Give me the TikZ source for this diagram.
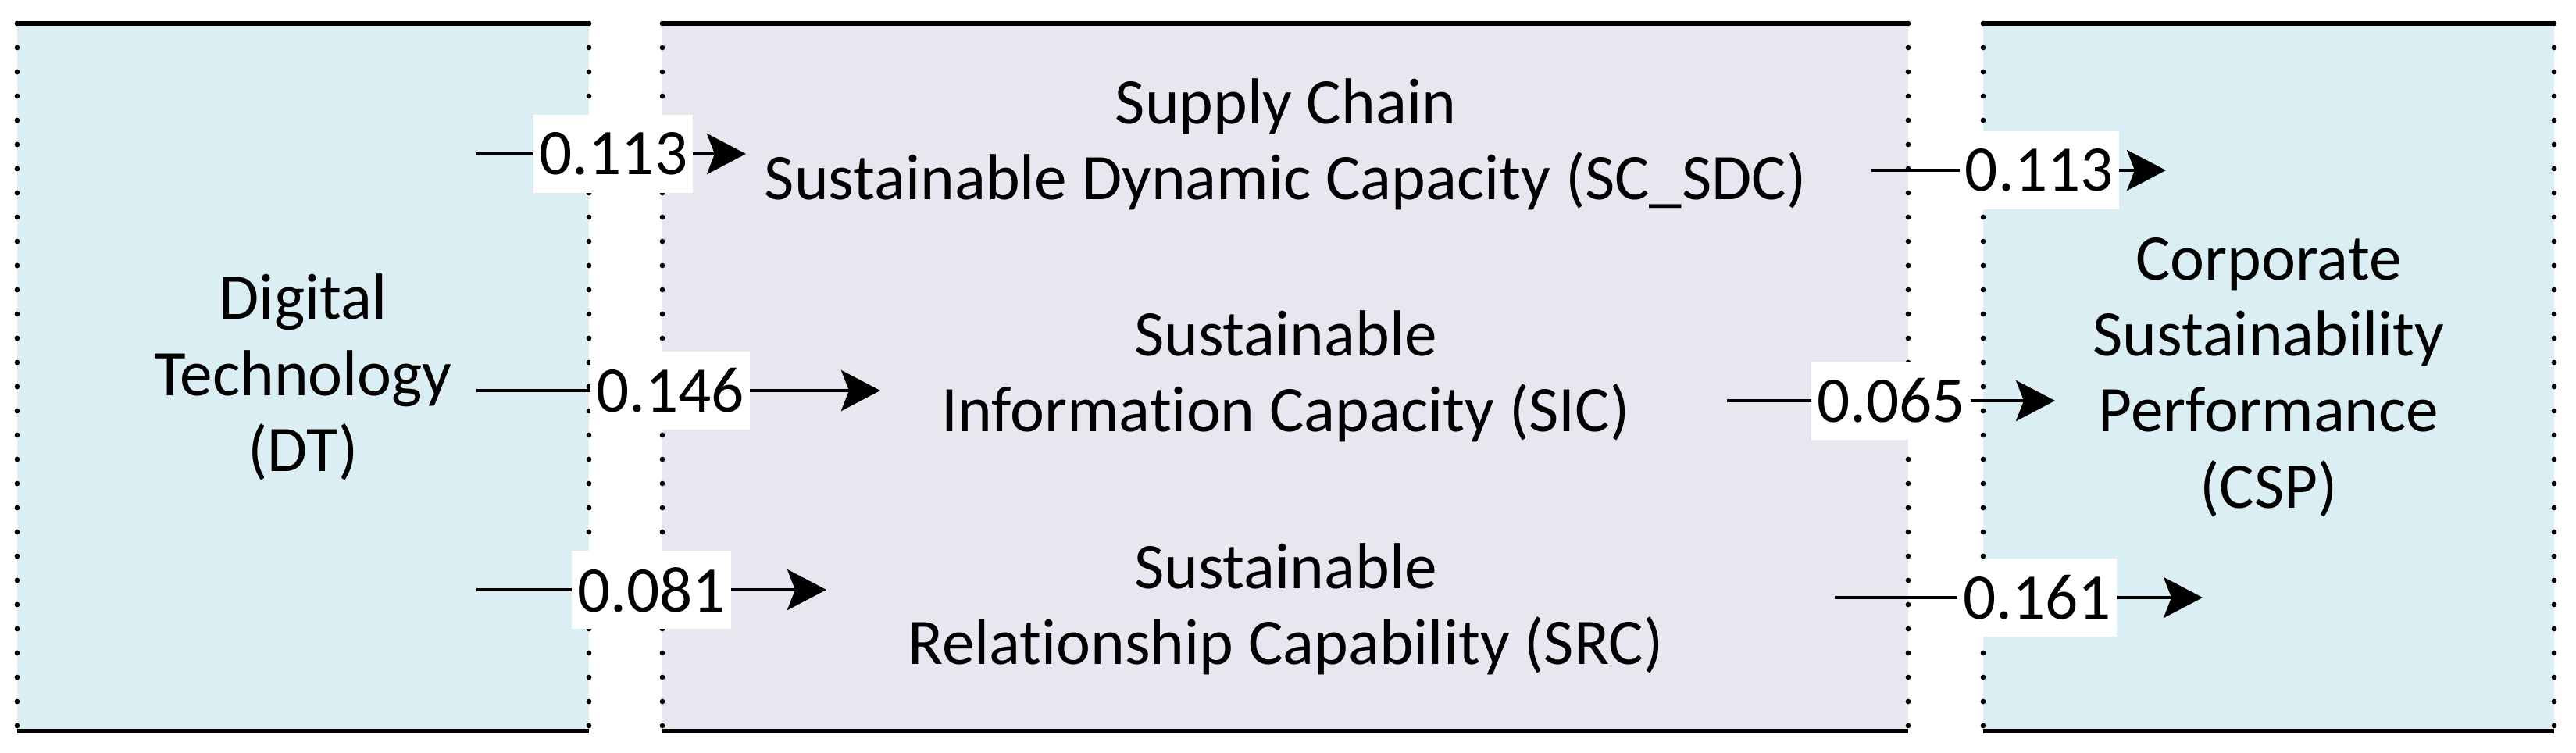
\documentclass[tikz,border=0pt]{standalone}
\usepackage{fontspec}
\setmainfont{Carlito}[Ligatures=NoCommon]
\usepackage{tikz}
\usetikzlibrary{arrows.meta}
\usetikzlibrary{calc}
\definecolor{dt-blue}{RGB}{218,238,243}
\definecolor{mid-lilac}{RGB}{233,230,239}
\tikzset{
every picture/.style={line width=1.1pt,
                       >={Stealth[length=5mm,width=5.2mm,inset=1mm]}},
%%%%%%%%%%  Panel styles
panel/.style={fill=#1, draw=none, inner sep=0pt, outer sep=0pt},
thick_rule/.style={line width=1.8pt, line cap=butt},
dot_rule/.style={line width=1.9pt, line cap=round,
                 dash pattern=on 0pt off 0.31cm},
%%%%%%%%%%  Text styles
caption/.style={align=center, inner sep=0pt,
                font=\fontsize{23.7}{27.7}\selectfont},
coef/.style={fill=white, inner xsep=2pt, inner ysep=0pt,
             minimum height=1cm, font=\fontsize{23.7}{27.7}\selectfont},
path_arrow/.style={->, line width=1.1pt}
}

\begin{document}
\begin{tikzpicture}
\useasboundingbox (0,0) rectangle (32.98,-9.63);
%% panels
\node[panel=dt-blue, minimum width=7.32cm, minimum height=9.06cm] (DT) at (3.88,-4.83) {};
\node[panel=mid-lilac, minimum width=15.95cm, minimum height=9.06cm] (MID) at (16.455,-4.83) {};
\node[panel=dt-blue, minimum width=7.31cm, minimum height=9.06cm] (CSP) at (29.045,-4.83) {};
\foreach \p in {DT,MID,CSP}{
  \draw[thick_rule] (\p.north west) -- (\p.north east);
  \draw[thick_rule] (\p.south west) -- (\p.south east);
  \draw[dot_rule] (\p.north west) -- (\p.south west);
  \draw[dot_rule] (\p.north east) -- (\p.south east);
}
%% captions
\node[caption] (dt_txt) at (DT) {Digital\\Technology\\(DT)};
\node[caption] (sdc_txt) at (16.46,-1.85) {Supply Chain\\Sustainable Dynamic Capacity (SC\_SDC)};
\node[caption] (sic_txt) at (16.46,-4.82) {Sustainable\\Information Capacity (SIC)};
\node[caption] (src_txt) at (16.46,-7.80) {Sustainable\\Relationship Capability (SRC)};
\node[caption] (csp_txt) at (CSP) {Corporate\\Sustainability\\Performance\\(CSP)};
%% arrow ends
\coordinate (dt1) at (6.09,-1.97);
\coordinate (dt2) at (6.10,-5.00);
\coordinate (dt3) at (6.10,-7.55);
\coordinate (sdc_in) at (9.55,-1.97);
\coordinate (sic_in) at (11.27,-5.00);
\coordinate (src_in) at (10.58,-7.55);
\coordinate (sdc_out) at (23.96,-2.18);
\coordinate (sic_out) at (22.11,-5.13);
\coordinate (src_out) at (23.49,-7.65);
\coordinate (csp1) at (27.73,-2.18);
\coordinate (csp2) at (26.31,-5.13);
\coordinate (csp3) at (28.20,-7.65);
%% paths DT -> mediators
\draw[path_arrow] (dt1) -- node[coef, pos=0.51] (c1) {0.113} (sdc_in);
\draw[path_arrow] (dt2) -- node[coef, pos=0.48] (c2) {0.146} (sic_in);
\draw[path_arrow] (dt3) -- node[coef, pos=0.50] (c3) {0.081} (src_in);
%% paths mediators -> CSP
\draw[path_arrow] (sdc_out) -- node[coef, pos=0.57] (c4) {0.113} (csp1);
\draw[path_arrow] (sic_out) -- node[coef, pos=0.50] (c5) {0.065} (csp2);
\draw[path_arrow] (src_out) -- node[coef, pos=0.55] (c6) {0.161} (csp3);
\end{tikzpicture}
\end{document}
